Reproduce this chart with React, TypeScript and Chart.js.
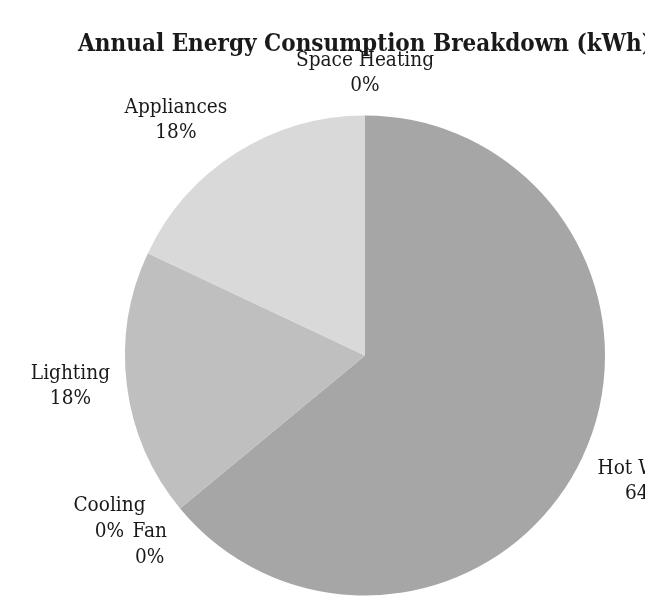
import React, { useEffect, useRef } from 'react';
import { Chart, registerables } from 'chart.js';

Chart.register(...registerables);

const titleText = 'Annual Energy Consumption Breakdown (kWh)';
const categories = ['Space Heating', 'Hot Water', 'Fan', 'Cooling', 'Lighting', 'Appliances'];
const values = [0, 64, 0, 0, 18, 18];
const sliceColors = ['#8c8c8c', '#a6a6a6', '#b0b0b0', '#b8b8b8', '#bfbfbf', '#d9d9d9'];

const FONT_FAMILY = '"DejaVu Serif Condensed", "DejaVu Serif", serif';
const LABEL_SIZE = 20.6;
const LINE_H = 25.5;
const GAP = 17;
const TEXT_COLOR = '#1a1a1a';

type Box = { x0: number; y0: number; x1: number; y1: number };
const overlaps = (a: Box, b: Box) => a.x0 < b.x1 && b.x0 < a.x1 && a.y0 < b.y1 && b.y0 < a.y1;
const clamp = (v: number, lo: number, hi: number) => Math.max(lo, Math.min(hi, v));

const outsideLabels = {
  id: 'outsideLabels',
  afterDatasetsDraw(chart: any) {
    const ctx = chart.ctx as CanvasRenderingContext2D;
    const meta = chart.getDatasetMeta(0);
    const data = chart.data.datasets[0].data as number[];
    const total = data.reduce((a, b) => a + b, 0);
    const placed: Box[] = [];
    ctx.save();
    ctx.font = `${LABEL_SIZE}px ${FONT_FAMILY}`;
    ctx.fillStyle = TEXT_COLOR;
    ctx.textAlign = 'center';
    ctx.textBaseline = 'middle';
    meta.data.forEach((arc: any, i: number) => {
      const p = arc.getProps(['x', 'y', 'startAngle', 'endAngle', 'outerRadius'], true);
      const mid = (p.startAngle + p.endAngle) / 2;
      const vx = Math.cos(mid);
      const vy = Math.sin(mid);
      const d = p.outerRadius + GAP;
      const px = p.x + vx * d;
      const py = p.y + vy * d;
      const lines = [String(chart.data.labels[i]), Math.round((data[i] / total) * 100) + '%'];
      const w = Math.max(...lines.map((l) => ctx.measureText(l).width));
      const h = LINE_H * lines.length;
      const tx = Math.abs(vx) > 0.1 ? Math.sign(vx) * (w / 2) : (vx / 0.1) * (w / 2);
      const f = vy >= 0 ? clamp(2.3 * (vy - 0.15), -0.1, 1) : -vy * vy;
      const ty = f * (h / 2);
      let cx = px + tx;
      let cy = py + ty;
      let box: Box = { x0: cx - w / 2, y0: cy - h / 2, x1: cx + w / 2, y1: cy + h / 2 };
      if (placed.some((b) => overlaps(b, box))) {
        const s = LINE_H * 1.32;
        cx += -vy * s;
        cy += vx * s;
        box = { x0: cx - w / 2, y0: cy - h / 2, x1: cx + w / 2, y1: cy + h / 2 };
      }
      placed.push(box);
      lines.forEach((l, k) => {
        ctx.fillText(l, cx, cy - h / 2 + LINE_H * (k + 0.5));
      });
    });
    ctx.restore();
  },
};

export default function App() {
  const ref = useRef<HTMLCanvasElement | null>(null);
  useEffect(() => {
    if (!ref.current) return;
    const chart = new Chart(ref.current, {
      type: 'pie',
      data: {
        labels: categories,
        datasets: [
          {
            data: values,
            backgroundColor: sliceColors,
            borderWidth: 0,
          },
        ],
      },
      options: {
        responsive: false,
        animation: false,
        layout: { padding: { top: 0, bottom: 4.5, left: 0, right: 0 } },
        plugins: {
          legend: { display: false },
          tooltip: { enabled: false },
          title: {
            display: true,
            text: titleText,
            color: TEXT_COLOR,
            font: { family: FONT_FAMILY, size: 24, weight: 'bold', lineHeight: 1.2 },
            padding: { top: 22, bottom: 56.7 },
          },
        },
      },
      plugins: [outsideLabels],
    });
    return () => chart.destroy();
  }, []);
  return (
    <div style={{ width: 645, overflow: 'hidden' }}>
      <canvas ref={ref} width={714} height={592} style={{ display: 'block' }} />
    </div>
  );
}
